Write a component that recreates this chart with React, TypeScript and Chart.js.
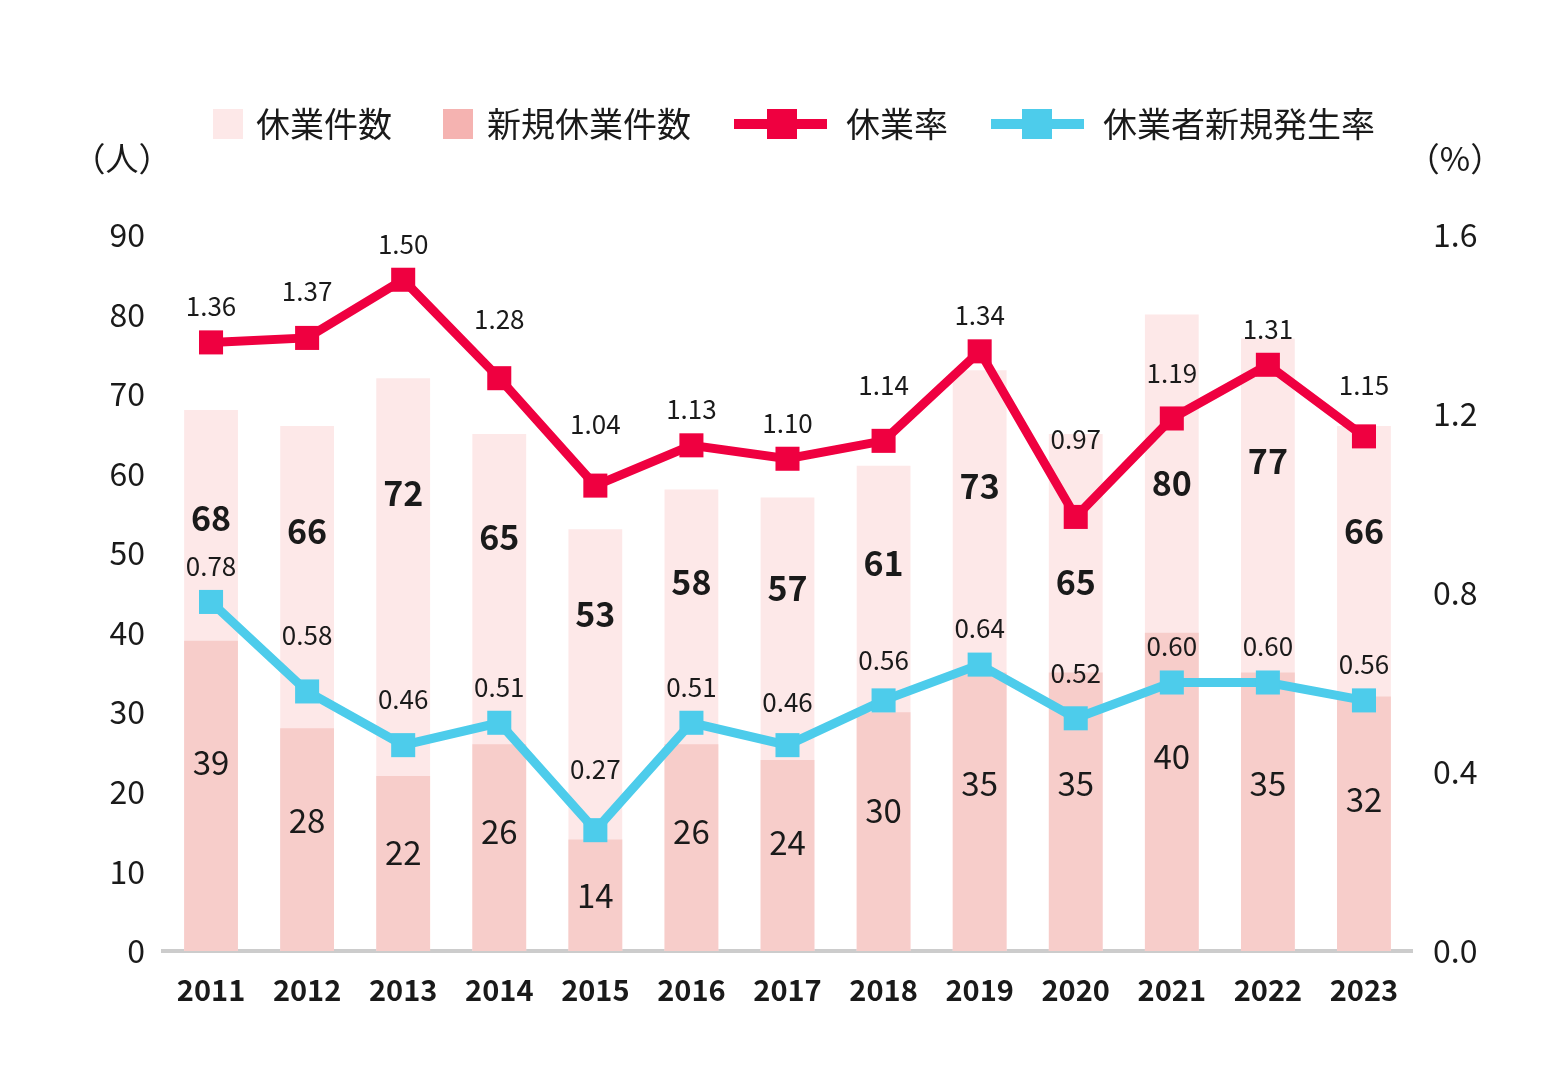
import React, { useEffect, useRef } from "react";
import { Chart, registerables } from "chart.js";

Chart.register(...registerables);

const years = ["2011", "2012", "2013", "2014", "2015", "2016", "2017", "2018", "2019", "2020", "2021", "2022", "2023"];
const totalCases = [68, 66, 72, 65, 53, 58, 57, 61, 73, 65, 80, 77, 66];
const newCases = [39, 28, 22, 26, 14, 26, 24, 30, 35, 35, 40, 35, 32];
const leaveRate = [1.36, 1.37, 1.5, 1.28, 1.04, 1.13, 1.1, 1.14, 1.34, 0.97, 1.19, 1.31, 1.15];
const newRate = [0.78, 0.58, 0.46, 0.51, 0.27, 0.51, 0.46, 0.56, 0.64, 0.52, 0.6, 0.6, 0.56];
const legendLabels = ["休業件数", "新規休業件数", "休業率", "休業者新規発生率"];

const FONT = "'Noto Sans CJK JP', 'Noto Sans', sans-serif";
const C_TOTAL = "#FDE8E8";
const C_NEW = "#F7CDCA";
const C_NEW_LEGEND = "#F5B3B1";
const C_RED = "#EF0040";
const C_BLUE = "#4DCCEB";
const C_TEXT = "#1a1a1a";

// label above a line point, lifted so that it clears the adjoining segments
function lineLabelY(meta: any, i: number): number {
  const p = meta.data;
  let y = p[i].y - 36;
  [i - 1, i + 1].forEach((j) => {
    if (j < 0 || j >= p.length) return;
    const t = 28 / Math.abs(p[j].x - p[i].x);
    const ly = p[i].y + (p[j].y - p[i].y) * t;
    y = Math.min(y, ly - 30);
  });
  return y;
}

const overlayPlugin = {
  id: "overlay",
  afterDatasetsDraw(chart: any) {
    const ctx = chart.ctx;
    const y = chart.scales.y;
    const mTotal = chart.getDatasetMeta(0);
    const mRed = chart.getDatasetMeta(2);
    const mBlue = chart.getDatasetMeta(3);
    ctx.save();
    ctx.fillStyle = C_TEXT;
    ctx.textAlign = "center";
    ctx.textBaseline = "middle";
    years.forEach((_, i) => {
      const x = mTotal.data[i].x;
      ctx.font = `bold 34px ${FONT}`;
      const ty = Math.max(y.getPixelForValue(totalCases[i] * 0.8), mRed.data[i].y + 65);
      ctx.fillText(String(totalCases[i]), x, ty);
      ctx.font = `33px ${FONT}`;
      ctx.fillText(String(newCases[i]), x, y.getPixelForValue(newCases[i] * 0.67 - 2.4));
      ctx.font = `26px ${FONT}`;
      ctx.fillText(leaveRate[i].toFixed(2), mRed.data[i].x, lineLabelY(mRed, i));
      ctx.fillText(newRate[i].toFixed(2), mBlue.data[i].x, lineLabelY(mBlue, i));
    });
    ctx.restore();
  },
  afterDraw(chart: any) {
    const ctx = chart.ctx;
    ctx.save();
    ctx.textBaseline = "middle";
    ctx.textAlign = "left";
    ctx.font = `34px ${FONT}`;
    const ly = 124;
    ctx.fillStyle = C_TOTAL;
    ctx.fillRect(213, ly - 15, 30, 30);
    ctx.fillStyle = C_TEXT;
    ctx.fillText(legendLabels[0], 256, ly);
    ctx.fillStyle = C_NEW_LEGEND;
    ctx.fillRect(443, ly - 15, 30, 30);
    ctx.fillStyle = C_TEXT;
    ctx.fillText(legendLabels[1], 487, ly);
    ctx.fillStyle = C_RED;
    ctx.fillRect(734, ly - 5, 93, 10);
    ctx.fillRect(767, ly - 15, 30, 30);
    ctx.fillStyle = C_TEXT;
    ctx.fillText(legendLabels[2], 846, ly);
    ctx.fillStyle = C_BLUE;
    ctx.fillRect(991, ly - 5, 93, 10);
    ctx.fillRect(1022, ly - 15, 30, 30);
    ctx.fillStyle = C_TEXT;
    ctx.fillText(legendLabels[3], 1103, ly);
    ctx.textAlign = "center";
    ctx.font = `33px ${FONT}`;
    ctx.fillText("（人）", 122, 158);
    ctx.fillText("（%）", 1455, 158);
    ctx.restore();
  },
};

export default function App() {
  const ref = useRef<HTMLCanvasElement>(null);
  useEffect(() => {
    if (!ref.current) return;
    const chart = new Chart(ref.current, {
      type: "bar",
      data: {
        labels: years,
        datasets: [
          {
            type: "bar",
            label: legendLabels[0],
            data: totalCases,
            backgroundColor: C_TOTAL,
            grouped: false,
            order: 3,
            yAxisID: "y",
            barPercentage: 0.56,
            categoryPercentage: 1,
          } as any,
          {
            type: "bar",
            label: legendLabels[1],
            data: newCases,
            backgroundColor: C_NEW,
            grouped: false,
            order: 2,
            yAxisID: "y",
            barPercentage: 0.56,
            categoryPercentage: 1,
          } as any,
          {
            type: "line",
            label: legendLabels[2],
            data: leaveRate,
            borderColor: C_RED,
            backgroundColor: C_RED,
            borderWidth: 9,
            pointStyle: "rect",
            pointRadius: 17,
            pointBorderWidth: 0,
            pointBackgroundColor: C_RED,
            yAxisID: "y1",
            order: 0,
          } as any,
          {
            type: "line",
            label: legendLabels[3],
            data: newRate,
            borderColor: C_BLUE,
            backgroundColor: C_BLUE,
            borderWidth: 9,
            pointStyle: "rect",
            pointRadius: 17,
            pointBorderWidth: 0,
            pointBackgroundColor: C_BLUE,
            yAxisID: "y1",
            order: 1,
          } as any,
        ],
      },
      options: {
        responsive: false,
        animation: false,
        devicePixelRatio: 1,
        layout: { padding: { top: 235, left: 0, right: 0, bottom: 0 } },
        plugins: { legend: { display: false }, tooltip: { enabled: false } },
        scales: {
          x: {
            grid: { display: false, drawTicks: false },
            border: { display: true, color: "#CCCCCC", width: 4 },
            ticks: { font: { family: FONT, size: 29, weight: "bold" }, color: C_TEXT, padding: 22 },
            afterFit: (s: any) => { s.height = 129; },
          },
          y: {
            position: "left",
            min: 0,
            max: 90,
            grid: { display: false, drawTicks: false },
            border: { display: false },
            ticks: { stepSize: 10, font: { family: FONT, size: 32 }, color: C_TEXT, padding: 18 },
            afterFit: (s: any) => { s.width = 163; },
          },
          y1: {
            position: "right",
            min: 0,
            max: 1.6,
            grid: { display: false, drawTicks: false },
            border: { display: false },
            ticks: {
              stepSize: 0.4,
              font: { family: FONT, size: 32 },
              color: C_TEXT,
              padding: 21,
              callback: (v: any) => Number(v).toFixed(1),
            },
            afterFit: (s: any) => { s.width = 148; },
          },
        },
      } as any,
      plugins: [overlayPlugin],
    });
    return () => chart.destroy();
  }, []);
  return (
    <div style={{ position: "fixed", left: 0, top: 0, width: 1560, height: 1080, background: "#fff" }}>
      <canvas ref={ref} width={1560} height={1080} style={{ width: 1560, height: 1080 }} />
    </div>
  );
}
